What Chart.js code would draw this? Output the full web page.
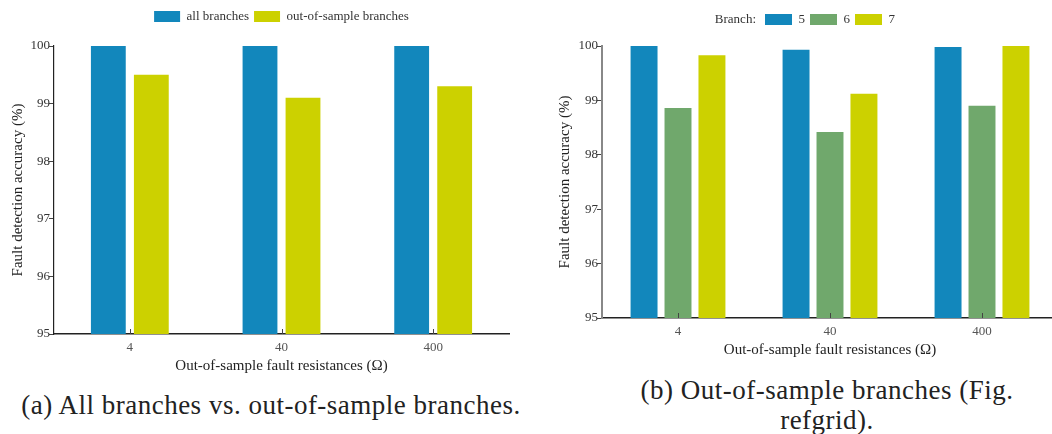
<!DOCTYPE html>
<html lang="en">
<head>
    <meta charset="UTF-8">
    <script src="https://cdn.jsdelivr.net/npm/chart.js@4.4.1/dist/chart.umd.min.js"></script>
    <title>Fault detection accuracy</title>
    <style>
        html, body { margin: 0; padding: 0; background: #fff; }
        body { width: 1052px; height: 434px; overflow: hidden; position: relative; }
        .box { position: absolute; top: 0; }
        #leftBox { left: 0; width: 530px; height: 375px; }
        #rightBox { left: 530px; width: 532px; height: 359px; }
        .caption { position: absolute; font-family: "Liberation Serif", serif; font-size: 27px; letter-spacing: 0.5px; color: #222; text-align: center; line-height: 30px; }
        #capA { left: 0; width: 542px; top: 390px; }
        #capB { left: 601px; width: 452px; top: 375px; }
    </style>
</head>
<body>
    <div class="box" id="leftBox"><canvas id="leftChart"></canvas></div>
    <div class="box" id="rightBox"><canvas id="rightChart"></canvas></div>
    <div class="caption" id="capA">(a) All branches vs. out-of-sample branches.</div>
    <div class="caption" id="capB">(b) Out-of-sample branches (Fig.<br>refgrid).</div>

    <script>
// fault resistances on the x axis
const resistances = ['4', '40', '400'];

// left panel
const allBranches = [100, 100, 100];
const outOfSample = [99.5, 99.1, 99.3];

// right panel, one series per branch
const branchNames = ['5', '6', '7'];
const branch5 = [100, 99.93, 99.98];
const branch6 = [98.86, 98.42, 98.9];
const branch7 = [99.83, 99.12, 100];

const yMin = 95, yMax = 100;

const BLUE = '#1287bc', GREEN = '#70a86c', YELLOW = '#ccd100';
const SERIF = '"Liberation Serif", "DejaVu Serif", serif';

Chart.defaults.font.family = SERIF;
Chart.defaults.color = '#333';
Chart.defaults.animation = false;
Chart.defaults.maintainAspectRatio = false;
Chart.defaults.responsive = true;

// extra room between the legend and the plot area
const legendGap = {
    id: 'legendGap',
    afterInit(chart, args, opts) {
        const legend = chart.legend;
        const fit = legend.fit.bind(legend);
        legend.fit = function () {
            fit();
            this.height += opts.gap || 0;
        };
    }
};

// small tick marks pointing up from the x axis at each category
const innerTicks = {
    id: 'innerTicks',
    afterDatasetsDraw(chart) {
        const sc = chart.scales.x, ctx = chart.ctx;
        ctx.save();
        ctx.strokeStyle = '#444';
        ctx.lineWidth = 1;
        sc.ticks.forEach((t, i) => {
            const x = Math.round(sc.getPixelForTick(i)) + 0.5;
            ctx.beginPath();
            ctx.moveTo(x, sc.top);
            ctx.lineTo(x, sc.top - 5);
            ctx.stroke();
        });
        ctx.restore();
    }
};

// "Branch:" heading to the left of the legend entries
const legendHeading = {
    id: 'legendHeading',
    afterDraw(chart) {
        const hb = chart.legend.legendHitBoxes[0];
        if (!hb) return;
        const ctx = chart.ctx;
        ctx.save();
        ctx.font = '13px ' + SERIF;
        ctx.fillStyle = '#333';
        ctx.textAlign = 'right';
        ctx.textBaseline = 'middle';
        ctx.fillText('Branch:', hb.left - 9, hb.top + hb.height / 2);
        ctx.restore();
    }
};

function makeOptions(o) {
    return {
        layout: { padding: { top: o.padTop, right: o.padRight, bottom: 0, left: 0 } },
        plugins: {
            legend: {
                position: 'top',
                fullSize: false,
                labels: {
                    boxWidth: o.boxWidth, boxHeight: 11, padding: 5,
                    font: { size: 13 }, color: '#333'
                }
            },
            legendGap: { gap: o.gap },
            tooltip: { enabled: false }
        },
        scales: {
            x: {
                grid: { display: true, drawOnChartArea: false, drawTicks: false },
                border: { display: true, color: '#222', width: 1.5 },
                ticks: { padding: 6, color: '#555', font: { size: 13 } },
                title: {
                    display: true, text: 'Out-of-sample fault resistances (\u03a9)',
                    color: '#222', font: { size: 15 }, padding: { top: 0, bottom: 0 }
                },
                afterFit: s => { s.height = o.xHeight; }
            },
            y: {
                min: yMin, max: yMax,
                ticks: { stepSize: 1, padding: -1, color: '#333', font: { size: 13 } },
                grid: { display: true, drawOnChartArea: false, tickLength: 5, color: '#444' },
                border: { display: true, color: o.yAxisColor, width: o.yAxisWidth },
                title: {
                    display: true, text: 'Fault detection accuracy (%)',
                    color: '#222', font: { size: 15 }, padding: { top: o.yTitlePad, bottom: 0 }
                },
                afterFit: s => { s.width = o.yWidth; }
            }
        }
    };
}

new Chart(document.getElementById('leftChart'), {
    type: 'bar',
    data: {
        labels: resistances,
        datasets: [
            { label: 'all branches', data: allBranches, backgroundColor: BLUE },
            { label: 'out-of-sample branches', data: outOfSample, backgroundColor: YELLOW }
        ].map(d => Object.assign(d, { categoryPercentage: 0.567, barPercentage: 0.81, borderWidth: 0 }))
    },
    options: makeOptions({ padTop: 5, gap: 13, boxWidth: 26, padRight: 21, xHeight: 41, yWidth: 54, yTitlePad: 9, yAxisColor: '#222', yAxisWidth: 1.2 }),
    plugins: [legendGap, innerTicks]
});

new Chart(document.getElementById('rightChart'), {
    type: 'bar',
    data: {
        labels: resistances,
        datasets: [
            { label: branchNames[0], data: branch5, backgroundColor: BLUE },
            { label: branchNames[1], data: branch6, backgroundColor: GREEN },
            { label: branchNames[2], data: branch7, backgroundColor: YELLOW }
        ].map(d => Object.assign(d, { categoryPercentage: 0.67, barPercentage: 0.794, borderWidth: 0 }))
    },
    options: makeOptions({ padTop: 8, gap: 10, boxWidth: 27, padRight: 4, xHeight: 41, yWidth: 72, yTitlePad: 26, yAxisColor: '#888', yAxisWidth: 2 }),
    plugins: [legendGap, innerTicks, legendHeading]
});
    </script>
</body>
</html>
